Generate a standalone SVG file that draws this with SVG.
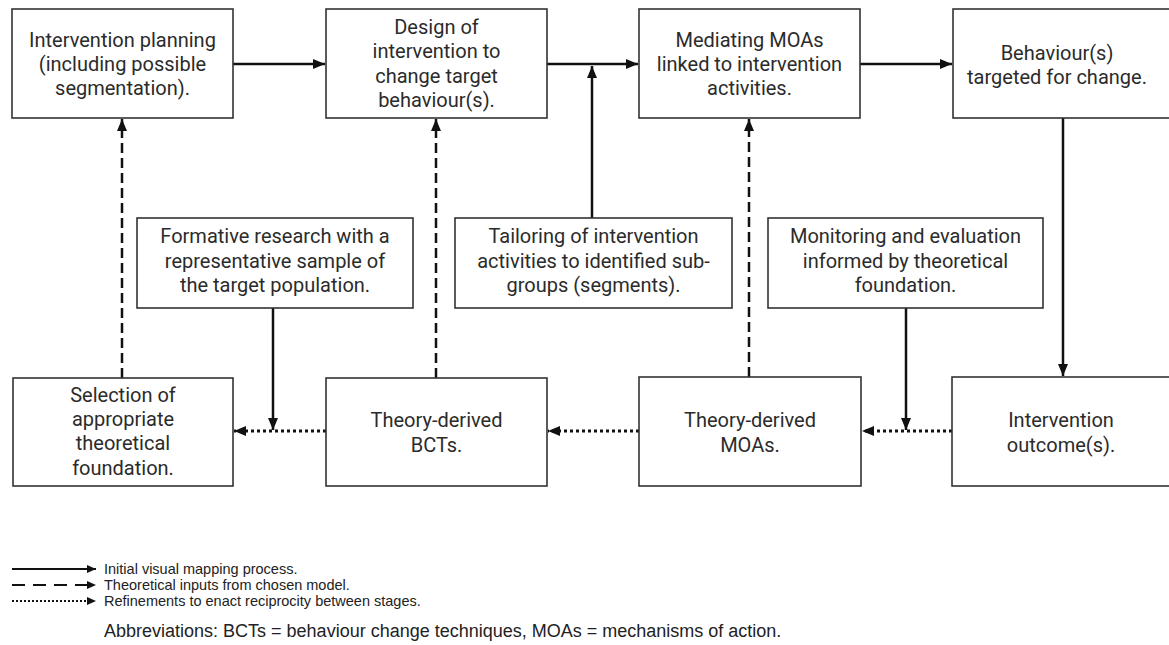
<svg xmlns="http://www.w3.org/2000/svg" width="1169" height="645" viewBox="0 0 1169 645">
<style>
.box{fill:#fff;stroke:#333;stroke-width:1.6}
.t{font-family:Roboto,"Liberation Sans",sans-serif;font-size:20px;fill:#2b2b2b;text-anchor:middle}
.lg{font-family:"Liberation Sans",Arial,sans-serif;font-size:14.5px;fill:#222}
.ab{font-family:"Liberation Sans",Arial,sans-serif;font-size:18px;fill:#222}
.solid{fill:none;stroke:#111;stroke-width:2.5}
.dash{fill:none;stroke:#111;stroke-width:2.5;stroke-dasharray:10 5}
.dot{fill:none;stroke:#111;stroke-width:3;stroke-dasharray:3 3}
.lsolid{fill:none;stroke:#111;stroke-width:2}
.ldash{fill:none;stroke:#111;stroke-width:2.2;stroke-dasharray:13 8}
.ldot{fill:none;stroke:#111;stroke-width:2.2;stroke-dasharray:2 2}
</style>
<defs>
<marker id="ah" viewBox="0 0 12 10" refX="12" refY="5" markerWidth="12" markerHeight="10" markerUnits="userSpaceOnUse" orient="auto">
<path d="M0,0 L12,5 L0,10 Z" fill="#111"/>
</marker>
<marker id="ahs" viewBox="0 0 9 8" refX="9" refY="4" markerWidth="9" markerHeight="8" markerUnits="userSpaceOnUse" orient="auto">
<path d="M0,0 L9,4 L0,8 Z" fill="#111"/>
</marker>
</defs>
<rect width="1169" height="645" fill="#fff"/>

<g id="connectors">
<path class="solid" d="M233,64 H325" marker-end="url(#ah)"/>
<path class="solid" d="M547,64 H638" marker-end="url(#ah)"/>
<path class="solid" d="M860,64 H952" marker-end="url(#ah)"/>
<path class="solid" d="M592,218 V66" marker-end="url(#ah)"/>
<path class="solid" d="M1063,118 V376" marker-end="url(#ah)"/>
<path class="dot" d="M952,431 H862" marker-end="url(#ah)"/>
<path class="solid" d="M906,308 V430" marker-end="url(#ah)"/>
<path class="dot" d="M639,431 H548" marker-end="url(#ah)"/>
<path class="dot" d="M326,431 H234" marker-end="url(#ah)"/>
<path class="solid" d="M273,308 V430" marker-end="url(#ah)"/>
<path class="dash" d="M122,378 V119" marker-end="url(#ah)"/>
<path class="dash" d="M436,378 V119" marker-end="url(#ah)"/>
<path class="dash" d="M749,377 V119" marker-end="url(#ah)"/>
</g>

<g id="n1"><rect class="box" x="12" y="9" width="221" height="109"/>
<text class="t" x="122.5" y="47">Intervention planning</text>
<text class="t" x="122.5" y="71">(including possible</text>
<text class="t" x="122.5" y="95">segmentation).</text></g>

<g id="n2"><rect class="box" x="326" y="9" width="221" height="109"/>
<text class="t" x="436.5" y="34">Design of</text>
<text class="t" x="436.5" y="58">intervention to</text>
<text class="t" x="436.5" y="83">change target</text>
<text class="t" x="436.5" y="107">behaviour(s).</text></g>

<g id="n3"><rect class="box" x="639" y="9" width="221" height="109"/>
<text class="t" x="749.5" y="47">Mediating MOAs</text>
<text class="t" x="749.5" y="71">linked to intervention</text>
<text class="t" x="749.5" y="95">activities.</text></g>

<g id="n4"><rect class="box" x="953" y="9" width="230" height="109"/>
<text class="t" x="1057" y="60">Behaviour(s)</text>
<text class="t" x="1057" y="84">targeted for change.</text></g>

<g id="n5"><rect class="box" x="137" y="218" width="276" height="90"/>
<text class="t" x="275" y="243">Formative research with a</text>
<text class="t" x="275" y="268">representative sample of</text>
<text class="t" x="275" y="292">the target population.</text></g>

<g id="n6"><rect class="box" x="455" y="218" width="277" height="90"/>
<text class="t" x="593.5" y="243">Tailoring of intervention</text>
<text class="t" x="593.5" y="268">activities to identified sub-</text>
<text class="t" x="593.5" y="292">groups (segments).</text></g>

<g id="n7"><rect class="box" x="768" y="218" width="275" height="90"/>
<text class="t" x="905.5" y="243">Monitoring and evaluation</text>
<text class="t" x="905.5" y="268">informed by theoretical</text>
<text class="t" x="905.5" y="292">foundation.</text></g>

<g id="n8"><rect class="box" x="13" y="378" width="220" height="108"/>
<text class="t" x="123" y="402">Selection of</text>
<text class="t" x="123" y="426">appropriate</text>
<text class="t" x="123" y="450">theoretical</text>
<text class="t" x="123" y="475">foundation.</text></g>

<g id="n9"><rect class="box" x="326" y="378" width="221" height="108"/>
<text class="t" x="436.5" y="427">Theory-derived</text>
<text class="t" x="436.5" y="452">BCTs.</text></g>

<g id="n10"><rect class="box" x="639" y="377" width="222" height="109"/>
<text class="t" x="750" y="427">Theory-derived</text>
<text class="t" x="750" y="452">MOAs.</text></g>

<g id="n11"><rect class="box" x="952" y="377" width="230" height="109"/>
<text class="t" x="1061" y="427">Intervention</text>
<text class="t" x="1061" y="452">outcome(s).</text></g>

<g id="legend">
<path class="lsolid" d="M12,569 H96" marker-end="url(#ahs)"/>
<path class="ldash" d="M12,585 H96" marker-end="url(#ahs)"/>
<path class="ldot" d="M12,601 H96" marker-end="url(#ahs)"/>
<text class="lg" x="104" y="574">Initial visual mapping process.</text>
<text class="lg" x="104" y="590">Theoretical inputs from chosen model.</text>
<text class="lg" x="104" y="606">Refinements to enact reciprocity between stages.</text>
<text class="ab" x="104" y="637">Abbreviations: BCTs = behaviour change techniques, MOAs = mechanisms of action.</text>
</g>
</svg>
